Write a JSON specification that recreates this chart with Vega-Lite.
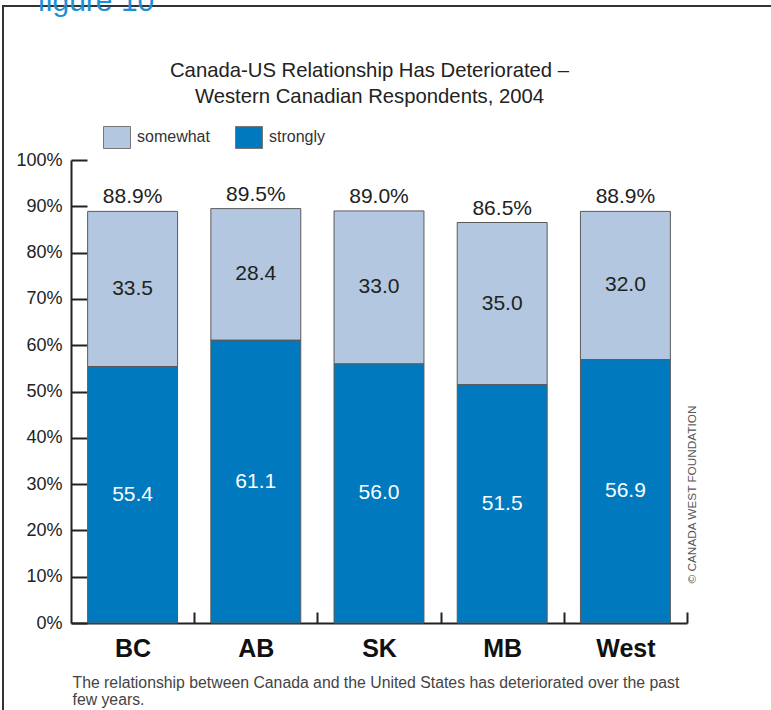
{
  "$schema": "https://vega.github.io/schema/vega-lite/v6.json",
  "width": 800,
  "height": 720,
  "autosize": {"type": "none"},
  "padding": {"left": 3, "top": 6, "right": -32, "bottom": -16},
  "background": "white",
  "datasets": {
    "bars": [
      {"region": "BC", "segment": "strongly", "value": 55.4},
      {"region": "BC", "segment": "somewhat", "value": 33.5},
      {"region": "AB", "segment": "strongly", "value": 61.1},
      {"region": "AB", "segment": "somewhat", "value": 28.4},
      {"region": "SK", "segment": "strongly", "value": 56.0},
      {"region": "SK", "segment": "somewhat", "value": 33.0},
      {"region": "MB", "segment": "strongly", "value": 51.5},
      {"region": "MB", "segment": "somewhat", "value": 35.0},
      {"region": "West", "segment": "strongly", "value": 56.9},
      {"region": "West", "segment": "somewhat", "value": 32.0}
    ],
    "totals": [
      {"region": "BC", "total": 88.9, "label": "88.9%"},
      {"region": "AB", "total": 89.5, "label": "89.5%"},
      {"region": "SK", "total": 89.0, "label": "89.0%"},
      {"region": "MB", "total": 86.5, "label": "86.5%"},
      {"region": "West", "total": 88.9, "label": "88.9%"}
    ]
  },
  "layer": [
    {
      "data": {"name": "bars"},
      "mark": {"type": "bar", "stroke": "#5a5a5a", "strokeWidth": 1},
      "encoding": {
        "x": {
          "field": "region",
          "type": "nominal",
          "sort": ["BC", "AB", "SK", "MB", "West"],
          "scale": {"range": [68, 684], "paddingInner": 0.27, "paddingOuter": 0.135},
          "axis": {
            "orient": "bottom",
            "offset": -103,
            "tickOffset": 61.6,
            "labelOffset": -61.6,
            "tickSize": -11,
            "tickWidth": 2,
            "tickColor": "#222",
            "domainColor": "#222",
            "domainWidth": 2,
            "labelPadding": 24,
            "labelFontSize": 25,
            "labelFontWeight": "bold",
            "labelColor": "#111",
            "labelAngle": 0,
            "title": ["The relationship between Canada and the United States has deteriorated over the past", "few years."],
            "titleX": 69,
            "titleY": 64,
            "titleAlign": "left",
            "titleBaseline": "alphabetic",
            "titleFontSize": 15.8,
            "titleFontWeight": "normal",
            "titleColor": "#444",
            "titleLineHeight": 17
          }
        },
        "y": {
          "field": "value",
          "type": "quantitative",
          "stack": "zero",
          "scale": {"domain": [0, 100], "range": [617, 154], "nice": false},
          "axis": {
            "orient": "left",
            "offset": -68,
            "values": [0, 10, 20, 30, 40, 50, 60, 70, 80, 90, 100],
            "labelExpr": "datum.value + '%'",
            "tickSize": -16,
            "tickWidth": 2,
            "tickColor": "#222",
            "domainColor": "#222",
            "domainWidth": 2,
            "labelPadding": 25,
            "labelFontSize": 18,
            "labelColor": "#222",
            "title": null,
            "grid": false
          }
        },
        "color": {
          "field": "segment",
          "type": "nominal",
          "scale": {"domain": ["somewhat", "strongly"], "range": ["#b3c8e0", "#0079be"]},
          "legend": {
            "orient": "none",
            "legendX": 100,
            "legendY": 117,
            "direction": "horizontal",
            "title": null,
            "padding": 0,
            "symbolType": "M-1,-0.815L1,-0.815L1,0.815L-1,0.815Z",
            "symbolSize": 729,
            "symbolStrokeColor": "#777",
            "symbolStrokeWidth": 1,
            "symbolOpacity": 1,
            "labelFontSize": 16,
            "labelColor": "#333",
            "labelOffset": 6,
            "columnPadding": 23
          }
        },
        "order": {"field": "segment", "sort": "descending"}
      }
    },
    {
      "data": {"name": "bars"},
      "mark": {"type": "text", "fontSize": 21, "baseline": "middle"},
      "encoding": {
        "x": {
          "field": "region",
          "type": "nominal",
          "sort": ["BC", "AB", "SK", "MB", "West"],
          "axis": {
            "orient": "top",
            "labels": false,
            "ticks": false,
            "domain": false,
            "title": "figure 10",
            "titleX": 34,
            "titleY": 4,
            "titleAlign": "left",
            "titleBaseline": "alphabetic",
            "titleFontSize": 30,
            "titleFontWeight": "normal",
            "titleColor": "#1e90d6"
          }
        },
        "y": {"field": "value", "type": "quantitative", "stack": "zero", "bandPosition": 0.5, "axis": null},
        "detail": {"field": "segment"},
        "order": {"field": "segment", "sort": "descending"},
        "text": {"field": "value", "type": "quantitative", "format": ".1f"},
        "color": {"condition": {"test": "datum.segment === 'strongly'", "value": "white"}, "value": "#222"}
      }
    },
    {
      "data": {"name": "totals"},
      "mark": {"type": "text", "fontSize": 21, "baseline": "alphabetic", "dy": -8, "color": "#222"},
      "encoding": {
        "x": {
          "field": "region",
          "type": "nominal",
          "sort": ["BC", "AB", "SK", "MB", "West"],
          "axis": {
            "orient": "top",
            "labels": false,
            "ticks": false,
            "domain": false,
            "title": ["Canada-US Relationship Has Deteriorated –", "Western Canadian Respondents, 2004"],
            "titleX": 366,
            "titleY": 70,
            "titleAlign": "center",
            "titleBaseline": "alphabetic",
            "titleFontSize": 20.3,
            "titleFontWeight": "normal",
            "titleColor": "#222",
            "titleLineHeight": 26
          }
        },
        "y": {
          "field": "total",
          "type": "quantitative",
          "axis": {
            "orient": "right",
            "labels": false,
            "ticks": false,
            "domain": false,
            "grid": false,
            "title": "© CANADA WEST FOUNDATION",
            "titleAngle": -90,
            "titleX": -112,
            "titleY": 488,
            "titleAlign": "center",
            "titleBaseline": "middle",
            "titleFontSize": 11.8,
            "titleFontWeight": "normal",
            "titleColor": "#555"
          }
        },
        "text": {"field": "label"}
      }
    }
  ],
  "resolve": {"axis": {"x": "independent", "y": "independent"}},
  "config": {
    "font": "Liberation Sans",
    "view": {"stroke": "#333", "strokeWidth": 2},
    "axis": {"grid": false}
  }
}
